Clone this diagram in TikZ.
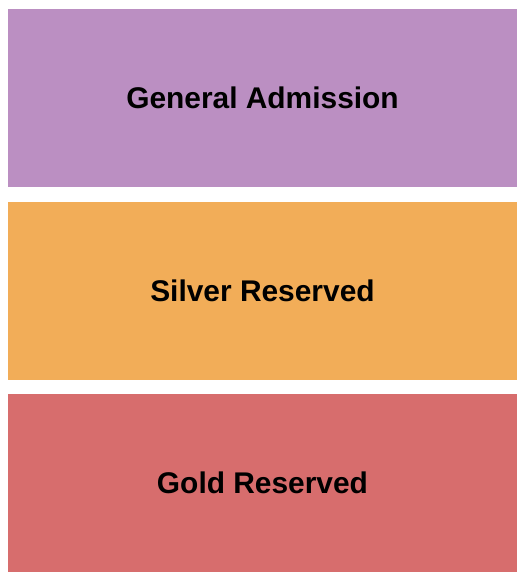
\documentclass[tikz,border=0pt]{standalone}
\usepackage{fontspec}
\setmainfont{Liberation Sans}
\definecolor{gacolor}{HTML}{BB8FC2}
\definecolor{silvercolor}{HTML}{F2AD58}
\definecolor{goldcolor}{HTML}{D76D6D}
\begin{document}
\begin{tikzpicture}[x=1pt,y=-1pt,
	section/.style={minimum width=509pt,minimum height=178pt,inner sep=0pt,
		font=\fontsize{29.9}{32}\selectfont\bfseries,text=black}]
\useasboundingbox (0,0) rectangle (525,580);
\node[section,fill=gacolor] (ga) at (262.5,98) {General Admission};
\node[section,fill=silvercolor] (silver) at (262.5,290.5) {Silver Reserved};
\node[section,fill=goldcolor] (gold) at (262.5,482.5) {Gold Reserved};
\end{tikzpicture}
\end{document}
